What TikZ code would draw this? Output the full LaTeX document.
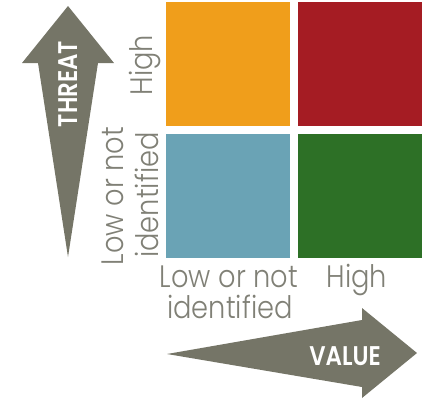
\documentclass[tikz,border=0pt]{standalone}
\usepackage{fontspec}
\setmainfont{Poppins}[UprightFont={* Light},BoldFont={* SemiBold}]
\definecolor{qorange}{RGB}{240,158,27}
\definecolor{qred}{RGB}{165,28,35}
\definecolor{qblue}{RGB}{106,163,181}
\definecolor{qgreen}{RGB}{45,112,38}
\definecolor{arrowgray}{RGB}{117,117,103}
\definecolor{labelgray}{RGB}{128,128,118}
\newcommand\narrowlbl[1]{\scalebox{0.88}[1]{#1}}
\newcommand\narrowttl[1]{\scalebox{0.85}[1]{#1}}
\begin{document}
\begin{tikzpicture}[x=1pt,y=-1pt,
 quad/.style={minimum size=124pt, inner sep=0pt, outer sep=0pt},
 axislabel/.style={text=labelgray, font=\fontsize{31}{33}\selectfont, inner sep=0pt, anchor=base},
 axistitle/.style={text=white, font=\bfseries\fontsize{27}{27}\selectfont, inner sep=0pt},
 bigarrow/.style={fill=arrowgray}]
\useasboundingbox (0,0) rectangle (429,400);
\node[quad, fill=qorange] (hl) at (228,64) {};
\node[quad, fill=qred] (hh) at (360,64) {};
\node[quad, fill=qblue] (ll) at (228,196) {};
\node[quad, fill=qgreen] (lh) at (360,196) {};
\fill[bigarrow] (68,6) -- (114,63) -- (98,63) -- (68,257) -- (38,63) -- (22,63) -- cycle;
\fill[bigarrow] (167,354) -- (362,320) -- (362,308) -- (417,353) -- (362,398) -- (362,387) -- cycle;
\node[axistitle, rotate=90] (threat) at (68,84) {\narrowttl{THREAT}};
\node[axistitle] (value) at (345,356) {\narrowttl{VALUE}};
\node[axislabel, rotate=90] (thigh) at (152,65) {\narrowlbl{High}};
\node[axislabel, rotate=90] (tlow1) at (123,196) {\narrowlbl{Low or not}};
\node[axislabel, rotate=90] (tlow2) at (158,195) {\narrowlbl{identified}};
\node[axislabel] (vlow1) at (229,287) {\narrowlbl{Low or not}};
\node[axislabel] (vlow2) at (230,318) {\narrowlbl{identified}};
\node[axislabel] (vhigh) at (357,287) {\narrowlbl{High}};
\end{tikzpicture}
\end{document}
